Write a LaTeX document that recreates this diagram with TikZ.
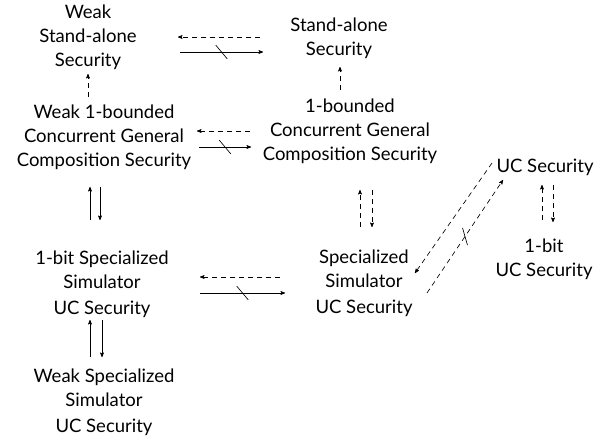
\documentclass[tikz,border=0pt]{standalone}
\usepackage{fontspec}
\setmainfont{Lato}
\usepackage{tikz}
\usetikzlibrary{arrows, calc, decorations.markings}

\begin{document}
\begin{tikzpicture}[x=1pt, y=-1pt,
    lbl/.style={align=center, inner sep=0pt, font=\fontsize{18.5}{24}\selectfont},
    imp/.style={->, >=stealth', line width=0.65pt},
    weak/.style={imp, dash pattern=on 5pt off 4pt},
    nimp/.style={postaction={decorate, decoration={markings,
        mark=at position 0.5 with {\draw[solid, -] (#1:9pt) -- (#1+180:9pt);}}}},
    nimp/.default=-50]
    \useasboundingbox (0,0) rectangle (600,441);

    % Stand-alone
    \node[lbl] (wsa) at (88,37.5) {Weak\\Stand-alone\\Security};
    \node[lbl] (sa) at (339,38.5) {Stand-alone\\Security};

    % 1-bounded concurrent
    \node[lbl] (wbcgc) at (104,137.5) {Weak 1-bounded\\Concurrent General\\Composition Security};
    \node[lbl] (bcgc) at (350,131.5) {1-bounded\\Concurrent General\\Composition Security};

    % UC
    \node[lbl] (uc) at (545,167) {UC Security};
    \node[lbl] (buc) at (544,259) {1-bit\\UC Security};

    % Specialized simulator
    \node[lbl] (ssuc) at (364,283) {Specialized\\Simulator\\[2pt]UC Security};
    \node[lbl] (bssuc) at (102,284) {1-bit Specialized\\Simulator\\[2pt]UC Security};
    \node[lbl] (wssuc) at (104,402) {Weak Specialized\\Simulator\\[2pt]UC Security};

    % Arrows
    \draw[weak] ($(sa)+(-79,-1.5)$) -- ($(wsa)+(90,-0.5)$);
    \draw[imp, nimp] ($(wsa)+(92,14.5)$) -- ($(sa)+(-76,13.5)$);
    \draw[weak] ($(wbcgc)+(-16,-40.5)$) -- ($(wsa)+(0,36.5)$);
    \draw[weak] ($(bcgc)+(-10,-41.5)$) -- ($(sa)+(1,28.5)$);

    \draw[weak] ($(bcgc)+(-100,-0.5)$) -- ($(wbcgc)+(93,-6.5)$);
    \draw[imp, nimp] ($(wbcgc)+(95,9.5)$) -- ($(bcgc)+(-99,15.5)$);

    \draw[imp] ($(bssuc)+(-12,-64)$) -- ($(wbcgc)+(-14,49.5)$);
    \draw[imp] ($(wbcgc)+(-4,49.5)$) -- ($(bssuc)+(-2,-64)$);
    \draw[weak] ($(ssuc)+(-4,-56)$) -- ($(bcgc)+(10,58.5)$);
    \draw[weak] ($(bcgc)+(22,58.5)$) -- ($(ssuc)+(8,-56)$);
    \draw[weak] ($(buc)+(-2,-39)$) -- ($(uc)+(-3,18)$);
    \draw[weak] ($(uc)+(8,18)$) -- ($(buc)+(9,-37)$);

    \draw[weak] ($(ssuc)+(-84,-6)$) -- ($(bssuc)+(98,-7)$);
    \draw[imp, nimp] ($(bssuc)+(98,9)$) -- ($(ssuc)+(-79,10)$);

    \draw[imp] ($(wssuc)+(-14,-45)$) -- ($(bssuc)+(-12,36)$);
    \draw[imp] ($(bssuc)+(0,36)$) -- ($(wssuc)+(-2,-45)$);

    \draw[weak] ($(uc)+(-53,-4)$) -- ($(ssuc)+(51,-10)$);
    \draw[weak, nimp=50] ($(ssuc)+(63,10)$) -- ($(uc)+(-42,13)$);
\end{tikzpicture}
\end{document}
